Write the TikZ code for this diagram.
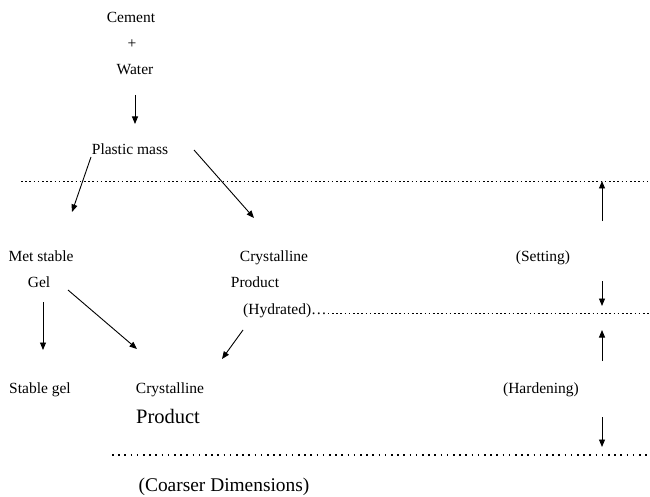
\documentclass[tikz,border=0pt]{standalone}
\usepackage{fontspec}
\setmainfont{Liberation Serif}
\usetikzlibrary{arrows.meta}
\tikzset{
  lbl/.style={inner sep=0pt, anchor=base, font=\fontsize{15.5}{18}\selectfont},
  biglbl/.style={inner sep=0pt, anchor=base, font=\fontsize{20.5}{24}\selectfont},
  arr/.style={-{Triangle[length=7.5pt,width=6pt]}, line width=0.9pt},
  dotline/.style={line width=0.9pt, dash pattern=on 1.6pt off 2.6pt},
  bigdotline/.style={line width=1.6pt, dash pattern=on 1.6pt off 4.6pt}
}
\begin{document}
\begin{tikzpicture}[x=1pt,y=-1pt]
\useasboundingbox (0,0) rectangle (650,497);
% text nodes
\node[lbl] (cement) at (131,23) {Cement};
\node[inner sep=0pt, font=\fontsize{15.5}{18}\selectfont] (plus) at (132,44) {+};
\node[lbl] (water) at (135,75) {Water};
\node[lbl] (plastic) at (130,155) {Plastic mass};
\node[lbl] (metstable) at (41,261) {Met stable};
\node[lbl] (gel) at (39,287) {Gel};
\node[lbl] (cryst1) at (274,261) {Crystalline};
\node[lbl] (prod1) at (255,287) {Product};
\node[lbl, anchor=base west] (hydr) at (243,314) {(Hydrated)…};
\node[lbl] (setting) at (543,261) {(Setting)};
\node[lbl] (stablegel) at (40,393) {Stable gel};
\node[lbl] (cryst2) at (170,393) {Crystalline};
\node[biglbl] (prod2) at (168,423) {Product};
\node[lbl] (hardening) at (541,393) {(Hardening)};
\node[biglbl, font=\fontsize{19.4}{23}\selectfont] (coarser) at (224,491) {(Coarser Dimensions)};
% arrow end points
\coordinate (w1) at (135,95);  \coordinate (w2) at (135,124);
\coordinate (p1) at (91,157);  \coordinate (p2) at (72,212);
\coordinate (p3) at (194,150); \coordinate (p4) at (254,218);
\coordinate (g1) at (43,302);  \coordinate (g2) at (43,350);
\coordinate (g3) at (68,290);  \coordinate (g4) at (137,349);
\coordinate (h1) at (243,330); \coordinate (h2) at (222,359);
\coordinate (s1) at (602,221); \coordinate (s2) at (602,181);
\coordinate (s3) at (602,281); \coordinate (s4) at (602,306);
\coordinate (s5) at (602,361); \coordinate (s6) at (602,330);
\coordinate (s7) at (602,417); \coordinate (s8) at (602,447);
% dotted lines
\coordinate (d1a) at (21,181);  \coordinate (d1b) at (650,181);
\coordinate (d2b) at (650,313);
\coordinate (d3a) at (112,455); \coordinate (d3b) at (650,455);
\draw[dotline] (d1a) -- (d1b);
\draw[dotline] (hydr.base east) ++(1,-1) -- (d2b);
\draw[bigdotline] (d3a) -- (d3b);
% arrows
\draw[arr] (w1) -- (w2);
\draw[arr] (p1) -- (p2);
\draw[arr] (p3) -- (p4);
\draw[arr] (g1) -- (g2);
\draw[arr] (g3) -- (g4);
\draw[arr] (h1) -- (h2);
\draw[arr] (s1) -- (s2);
\draw[arr] (s3) -- (s4);
\draw[arr] (s5) -- (s6);
\draw[arr] (s7) -- (s8);
\end{tikzpicture}
\end{document}
